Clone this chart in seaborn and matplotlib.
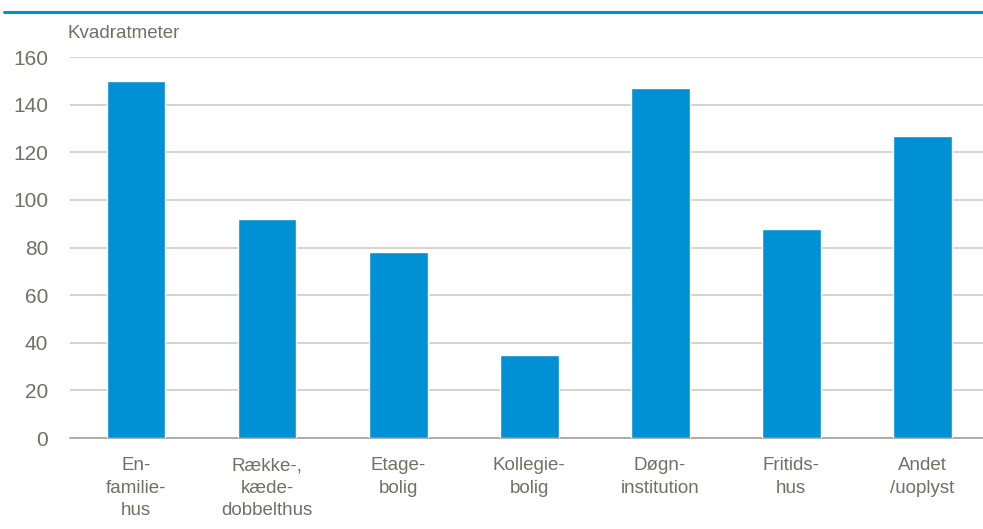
import seaborn as sns
import matplotlib.pyplot as plt
import matplotlib.lines as mlines
import pandas as pd

# data
categories = ["En-\nfamilie-\nhus", "Række-,\nkæde-\ndobbelthus", "Etage-\nbolig",
              "Kollegie-\nbolig", "Døgn-\ninstitution", "Fritids-\nhus", "Andet\n/uoplyst"]
values = [150, 92, 78, 35, 147, 88, 127]
yticks = [0, 20, 40, 60, 80, 100, 120, 140, 160]

bar_color = "#0090D4"
text_color = "#707065"
grid_color = "#CDCDC4"

sns.set_theme(style="white")
plt.rcParams["font.family"] = ["Liberation Sans", "DejaVu Sans"]

df = pd.DataFrame({"kategori": categories, "kvm": values})

fig = plt.figure(figsize=(9.83, 5.29), dpi=100)
ax = fig.add_axes([0.0717, 0.172, 0.933, 0.720])

sns.barplot(data=df, x="kategori", y="kvm", color=bar_color, width=0.45,
            saturation=1, ax=ax, zorder=3)

ax.set_ylim(0, 160)
ax.set_yticks(yticks)
ax.yaxis.grid(True, color=grid_color, linewidth=1.2, zorder=0)
ax.set_axisbelow(True)
for side in ["top", "right", "left"]:
    ax.spines[side].set_visible(False)
ax.spines["bottom"].set_color("#A3A292")
ax.spines["bottom"].set_linewidth(1.2)

ax.set_xlabel("")
ax.set_ylabel("")
ax.tick_params(axis="y", length=0, pad=16, labelsize=15, labelcolor=text_color)
ax.tick_params(axis="x", length=0, pad=14, labelsize=13.5, labelcolor=text_color)
for lbl in ax.get_xticklabels():
    lbl.set_linespacing(1.42)

fig.text(0.069, 0.937, "Kvadratmeter", fontsize=13.5, color=text_color,
         ha="left", va="center")

# blue rule across the top
fig.add_artist(mlines.Line2D([0.004, 1.0], [0.977, 0.977], color=bar_color,
                             linewidth=2.2, transform=fig.transFigure))

plt.savefig("out.png", dpi=100)
